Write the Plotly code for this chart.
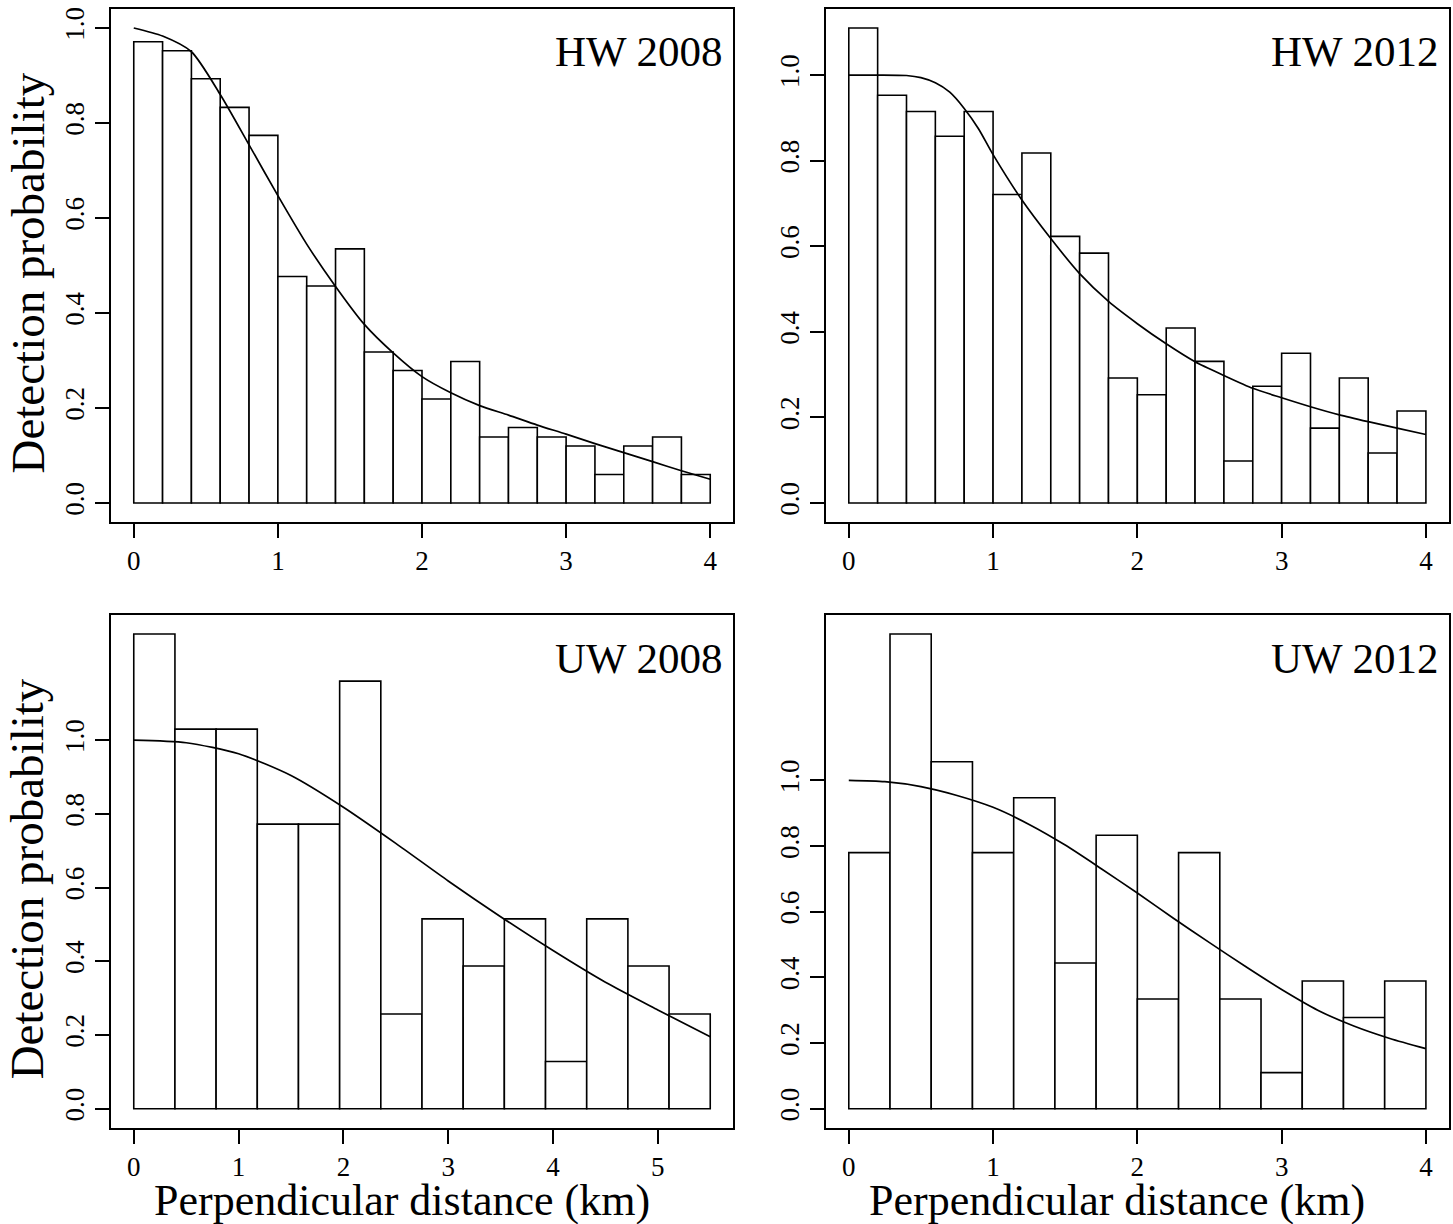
import numpy as np
import plotly.graph_objects as go

W, H = 1453, 1224
FONT = "Liberation Serif"

# ---------------- data ----------------
hw2008_cutoff, hw2008_nbins = 4.0, 20
hw2008_bars = [0.971, 0.952, 0.893, 0.833, 0.774, 0.477, 0.457, 0.535, 0.318, 0.279,
               0.219, 0.298, 0.139, 0.159, 0.139, 0.120, 0.060, 0.120, 0.139, 0.060]
hw2008_curve_x = [0, 0.2, 0.4, 0.6, 0.8, 1.0, 1.2, 1.4, 1.6, 1.8, 2.0, 2.2, 2.4, 2.6,
                  2.8, 3.0, 3.2, 3.4, 3.6, 3.8, 4.0]
hw2008_curve_y = [1.0, 0.983, 0.950, 0.860, 0.754, 0.647, 0.545, 0.456, 0.376, 0.316,
                  0.266, 0.232, 0.205, 0.185, 0.164, 0.145, 0.125, 0.106, 0.087, 0.068, 0.050]

hw2012_cutoff, hw2012_nbins = 4.0, 20
hw2012_bars = [1.110, 0.953, 0.915, 0.857, 0.915, 0.721, 0.818, 0.623, 0.584, 0.292,
               0.253, 0.409, 0.331, 0.098, 0.273, 0.350, 0.175, 0.292, 0.117, 0.215]
hw2012_curve_x = [0, 0.2, 0.4, 0.5, 0.6, 0.7, 0.8, 0.9, 1.0, 1.2, 1.4, 1.6, 1.8, 2.0,
                  2.2, 2.4, 2.6, 2.8, 3.0, 3.2, 3.4, 3.6, 3.8, 4.0]
hw2012_curve_y = [1.0, 1.0, 0.999, 0.994, 0.982, 0.960, 0.922, 0.874, 0.814, 0.708,
                  0.618, 0.536, 0.471, 0.419, 0.372, 0.330, 0.298, 0.268, 0.246, 0.225,
                  0.206, 0.190, 0.175, 0.160]

uw2008_cutoff, uw2008_nbins = 5.5, 14
uw2008_bars = [1.288, 1.030, 1.030, 0.772, 0.772, 1.160, 0.257, 0.515, 0.387, 0.515,
               0.128, 0.515, 0.387, 0.257]
uw2008_curve_x = [0, 0.5, 1.0, 1.5, 2.0, 2.5, 3.0, 3.5, 4.0, 4.5, 5.0, 5.5]
uw2008_curve_y = [1.0, 0.993, 0.963, 0.904, 0.818, 0.720, 0.618, 0.521, 0.429, 0.343,
                  0.268, 0.195]

uw2012_cutoff, uw2012_nbins = 4.0, 14
uw2012_bars = [0.780, 1.446, 1.057, 0.780, 0.947, 0.444, 0.833, 0.334, 0.780, 0.334,
               0.110, 0.389, 0.278, 0.389]
uw2012_curve_x = [0, 0.25, 0.5, 0.75, 1.0, 1.25, 1.5, 1.75, 2.0, 2.25, 2.5, 2.75, 3.0,
                  3.25, 3.5, 3.75, 4.0]
uw2012_curve_y = [1.0, 0.996, 0.981, 0.954, 0.918, 0.866, 0.803, 0.731, 0.657, 0.580,
                  0.506, 0.433, 0.363, 0.300, 0.252, 0.214, 0.183]

panel_labels = ["HW 2008", "HW 2012", "UW 2008", "UW 2012"]
y_ticks = [0.0, 0.2, 0.4, 0.6, 0.8, 1.0]
y_ticktext = ["0.0", "0.2", "0.4", "0.6", "0.8", "1.0"]
x_ticks_4 = [0, 1, 2, 3, 4]
x_ticks_5 = [0, 1, 2, 3, 4, 5]
ylab = "Detection probability"
xlab = "Perpendicular distance (km)"

panels = [
    dict(bars=hw2008_bars, cutoff=hw2008_cutoff, nb=hw2008_nbins, cx=hw2008_curve_x,
         cy=hw2008_curve_y, label=panel_labels[0], xt=x_ticks_4,
         box=(110.7, 9, 733.3, 522)),
    dict(bars=hw2012_bars, cutoff=hw2012_cutoff, nb=hw2012_nbins, cx=hw2012_curve_x,
         cy=hw2012_curve_y, label=panel_labels[1], xt=x_ticks_4,
         box=(825.7, 9, 1449, 522)),
    dict(bars=uw2008_bars, cutoff=uw2008_cutoff, nb=uw2008_nbins, cx=uw2008_curve_x,
         cy=uw2008_curve_y, label=panel_labels[2], xt=x_ticks_5,
         box=(110.7, 615, 733.3, 1127.7)),
    dict(bars=uw2012_bars, cutoff=uw2012_cutoff, nb=uw2012_nbins, cx=uw2012_curve_x,
         cy=uw2012_curve_y, label=panel_labels[3], xt=x_ticks_4,
         box=(825.7, 615, 1449, 1127.7)),
]

fig = go.Figure()
layout = dict(
    width=W, height=H,
    margin=dict(l=0, r=0, t=0, b=0),
    paper_bgcolor="white", plot_bgcolor="white",
    showlegend=False,
    font=dict(family=FONT, color="black"),
    annotations=[],
)

for i, p in enumerate(panels, start=1):
    xa = "x" if i == 1 else f"x{i}"
    ya = "y" if i == 1 else f"y{i}"
    edges = np.linspace(0, p["cutoff"], p["nb"] + 1)
    centers = (edges[:-1] + edges[1:]) / 2
    bw = edges[1] - edges[0]
    fig.add_trace(go.Bar(
        x=centers, y=p["bars"], width=bw, xaxis=xa, yaxis=ya,
        marker=dict(color="white", line=dict(color="black", width=1.6)),
        hoverinfo="skip"))
    fig.add_trace(go.Scatter(
        x=p["cx"], y=p["cy"], mode="lines", xaxis=xa, yaxis=ya,
        line=dict(color="black", width=1.7, shape="spline", smoothing=0.7),
        hoverinfo="skip"))

    x0, y0, x1, y1 = p["box"]
    xmax = p["cutoff"]
    ymax = max(max(p["bars"]), max(p["cy"]))
    xkey = "xaxis" if i == 1 else f"xaxis{i}"
    ykey = "yaxis" if i == 1 else f"yaxis{i}"
    common = dict(showline=True, linewidth=2, linecolor="black", mirror=True,
                  showgrid=False, zeroline=False, ticks="outside", ticklen=14,
                  tickwidth=2, tickcolor="black", automargin=False,
                  tickfont=dict(family=FONT, size=27, color="black"))
    layout[xkey] = dict(domain=[x0 / W, x1 / W], range=[-0.04 * xmax, 1.04 * xmax],
                        anchor=ya, tickvals=p["xt"], ticktext=[str(t) for t in p["xt"]],
                        **common)
    layout[ykey] = dict(domain=[1 - y1 / H, 1 - y0 / H], range=[-0.04 * ymax, 1.04 * ymax],
                        anchor=xa, tickvals=y_ticks, ticktext=y_ticktext, tickangle=-90,
                        **common)
    layout["annotations"].append(dict(
        text=p["label"], xref="paper", yref="paper", x=(x1 - 8) / W,
        y=1 - (y0 + 43) / H, xanchor="right", yanchor="middle", showarrow=False,
        font=dict(family=FONT, size=43, color="black")))
    if i in (1, 3):
        layout["annotations"].append(dict(
            text=ylab, xref="paper", yref="paper", x=27 / W,
            y=1 - ((y0 + y1) / 2 + 8) / H, xanchor="center", yanchor="middle",
            textangle=-90, showarrow=False,
            font=dict(family=FONT, size=47, color="black")))
    if i in (3, 4):
        layout["annotations"].append(dict(
            text=xlab, xref="paper", yref="paper", x=((x0 + x1) / 2 - 20) / W,
            y=1 - 1200 / H, xanchor="center", yanchor="middle", showarrow=False,
            borderpad=0, font=dict(family=FONT, size=44, color="black")))

fig.update_layout(**layout)
fig.write_html(
    "out.html",
    config={"displayModeBar": False},
    post_script="document.body.style.margin='0px';document.body.style.overflow='hidden';",
)
